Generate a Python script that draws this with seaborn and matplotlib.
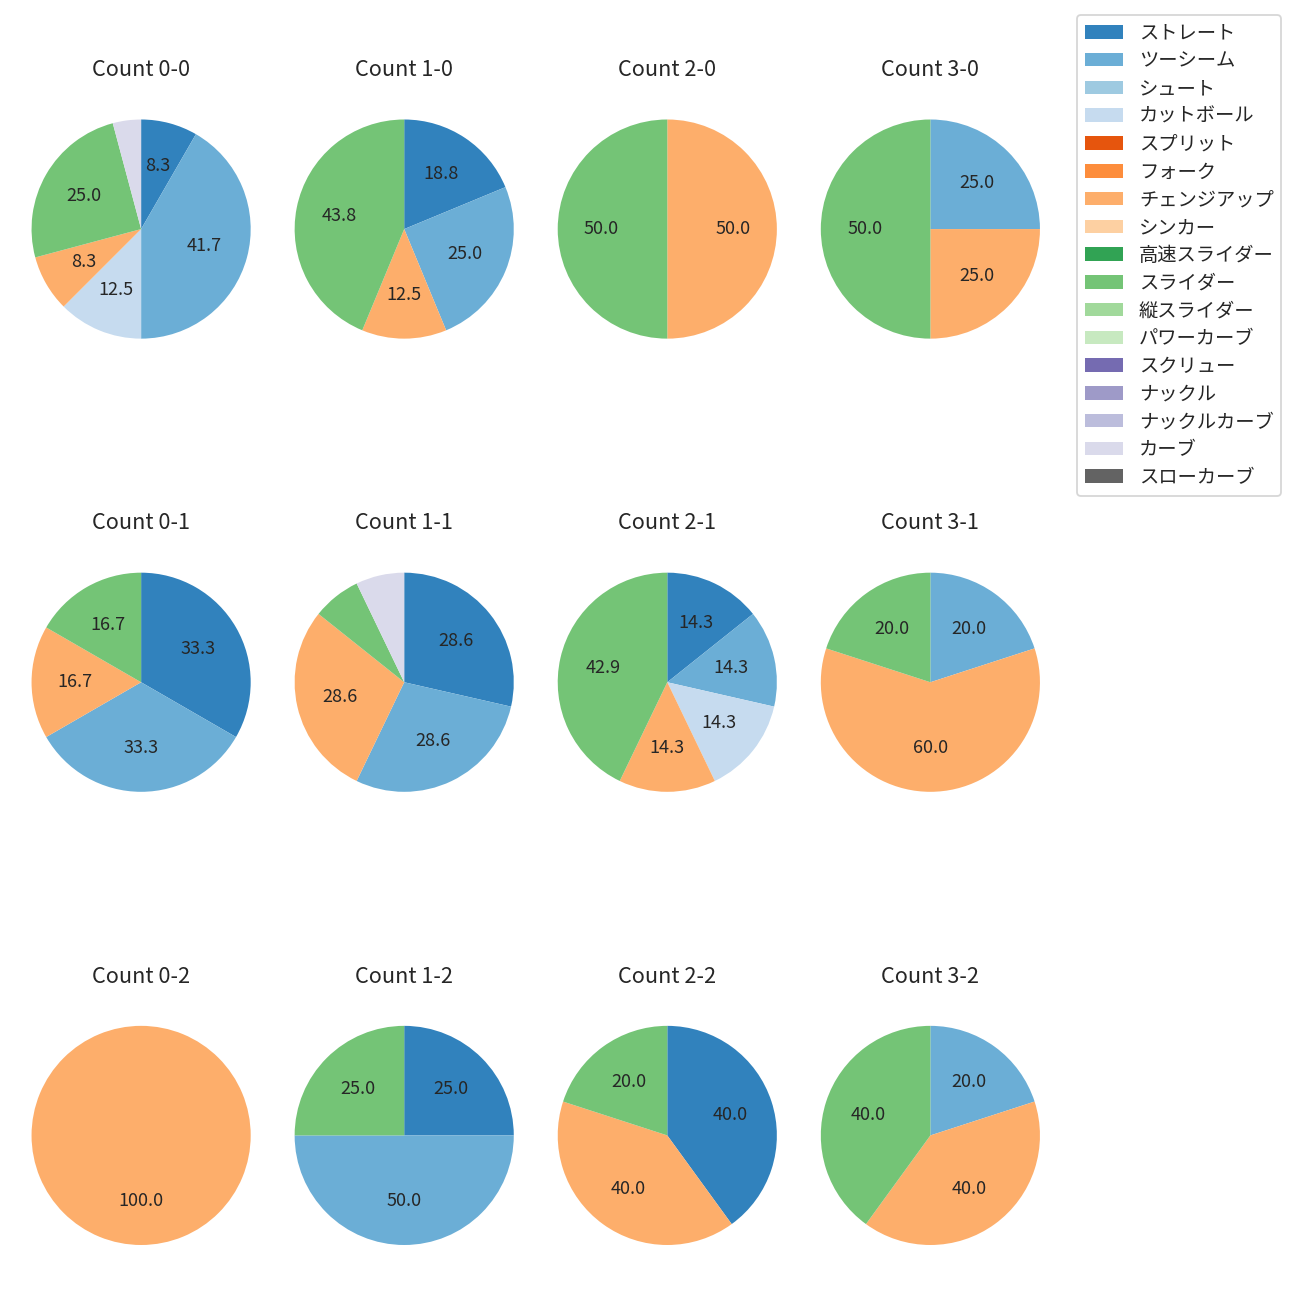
import matplotlib
matplotlib.use("Agg")
import matplotlib.pyplot as plt
from matplotlib.patches import Patch
import seaborn as sns

sns.set_style("white")
plt.rcParams['font.family'] = ['Noto Sans CJK JP', 'DejaVu Sans']

pitch_types = ["ストレート", "ツーシーム", "シュート", "カットボール", "スプリット", "フォーク",
               "チェンジアップ", "シンカー", "高速スライダー", "スライダー", "縦スライダー",
               "パワーカーブ", "スクリュー", "ナックル", "ナックルカーブ", "カーブ", "スローカーブ"]

counts = ["0-0", "1-0", "2-0", "3-0",
          "0-1", "1-1", "2-1", "3-1",
          "0-2", "1-2", "2-2", "3-2"]

# pitch counts per ball-strike count (order follows pitch_types)
c_0_0 = {"ストレート": 2, "ツーシーム": 10, "カットボール": 3, "チェンジアップ": 2, "スライダー": 6, "カーブ": 1}
c_1_0 = {"ストレート": 3, "ツーシーム": 4, "チェンジアップ": 2, "スライダー": 7}
c_2_0 = {"チェンジアップ": 1, "スライダー": 1}
c_3_0 = {"ツーシーム": 1, "チェンジアップ": 1, "スライダー": 2}
c_0_1 = {"ストレート": 2, "ツーシーム": 2, "チェンジアップ": 1, "スライダー": 1}
c_1_1 = {"ストレート": 4, "ツーシーム": 4, "チェンジアップ": 4, "スライダー": 1, "カーブ": 1}
c_2_1 = {"ストレート": 1, "ツーシーム": 1, "カットボール": 1, "チェンジアップ": 1, "スライダー": 3}
c_3_1 = {"ツーシーム": 1, "チェンジアップ": 3, "スライダー": 1}
c_0_2 = {"チェンジアップ": 1}
c_1_2 = {"ストレート": 1, "ツーシーム": 2, "スライダー": 1}
c_2_2 = {"ストレート": 2, "チェンジアップ": 2, "スライダー": 1}
c_3_2 = {"ツーシーム": 1, "チェンジアップ": 2, "スライダー": 2}

data = [c_0_0, c_1_0, c_2_0, c_3_0, c_0_1, c_1_1, c_2_1, c_3_1, c_0_2, c_1_2, c_2_2, c_3_2]

palette = sns.color_palette("tab20c", 20)
colors = {p: palette[i] for i, p in enumerate(pitch_types[:16])}
colors["スローカーブ"] = palette[16]

fig, axes = plt.subplots(3, 4, figsize=(10, 10), dpi=130)
fig.subplots_adjust(left=0.02423, right=0.8, top=0.90808, bottom=0.04231,
                    wspace=0.2, hspace=1.068)

def fmt(p):
    return f"{p:.1f}" if p > 7.5 else ""

for ax, cnt, d in zip(axes.flat, counts, data):
    labels = [p for p in pitch_types if p in d]
    vals = [d[p] for p in labels]
    ax.pie(vals, colors=[colors[p] for p in labels], startangle=90,
           counterclock=False, autopct=fmt, pctdistance=0.6,
           textprops={'fontsize': 10},
           wedgeprops={'linewidth': 0, 'edgecolor': 'none'})
    ax.set_xlim(-1, 1)
    ax.set_ylim(-1, 1)
    ax.set_aspect('equal')
    ax.set_title(f"Count {cnt}", fontsize=12, pad=24)

handles = [Patch(facecolor=colors[p], edgecolor='none', label=p) for p in pitch_types]
fig.legend(handles=handles, loc='upper left', bbox_to_anchor=(1077 / 1300, 1 - 15 / 1300),
           fontsize=10.7, labelspacing=0.35, borderaxespad=0)

fig.savefig("out.png", dpi=130)
